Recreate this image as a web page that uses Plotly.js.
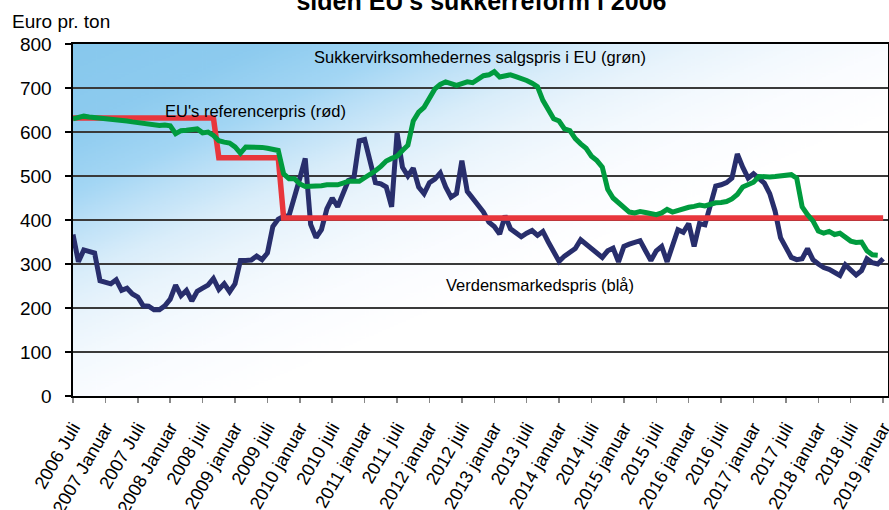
<!DOCTYPE html>
<html><head><meta charset="utf-8">
<script src="https://cdn.plot.ly/plotly-3.0.1.min.js"></script>
<style>html,body{margin:0;padding:0;background:#fff}#chart{width:889px;height:510px}</style>
</head><body><div id="chart"></div>
<script>
// Tick labels, one every 6 months starting 2006 July (month index 0)
const tickLabels = ["2006 Juli","2007 Januar","2007 Juli","2008 Januar","2008 juli","2009 januar","2009 juli","2010 januar","2010 juli","2011 januar","2011 juli","2012 januar","2012 juli","2013 januar","2013 juli","2014 januar","2014 juli","2015 januar","2015 juli","2016 januar","2016 juli","2017 januar","2017 juli","2018 januar","2018 juli","2019 januar"];

// Verdensmarkedspris (blå), monthly from 2006 July, EUR/ton
const worldPrice = [367,305,332,327,325,262,257,255,264,240,245,232,225,205,204,196,196,205,220,252,
228,240,216,238,245,252,267,242,255,237,255,308,308,309,318,310,325,385,402,408,
410,450,495,540,390,360,378,425,450,430,460,490,495,580,583,530,485,482,475,430,
598,520,500,518,475,460,485,493,507,475,452,460,535,465,450,432,418,395,385,368,
410,380,372,362,370,376,365,374,350,325,306,318,325,335,355,345,336,325,315,330,
336,305,340,345,348,353,330,308,330,340,305,340,378,372,392,340,392,389,430,477,
480,485,495,550,520,495,505,495,484,460,420,360,340,315,310,312,335,310,300,292,
288,282,274,298,288,275,285,312,303,300,312];

// Sukkervirksomhedernes salgspris i EU (grøn), monthly from 2006 July
const euSalesPrice = [630,634,636,634,633,632,631,630,628,627,625,623,621,620,618,617,615,616,614,596,
603,604,605,607,598,600,592,580,577,575,566,552,566,566,565,565,563,561,558,505,
494,494,482,476,476,478,478,480,480,480,484,488,488,488,496,503,512,522,534,540,
545,558,570,625,645,656,680,698,708,714,710,706,710,714,712,720,728,730,737,725,
728,730,726,722,717,711,703,672,648,630,625,607,603,585,573,563,545,535,520,470,
450,440,430,418,416,419,417,414,412,416,424,418,422,427,429,431,434,432,437,439,
440,442,448,458,475,480,486,499,498,498,499,500,501,503,495,430,412,398,375,370,
374,367,370,360,352,349,350,330,321,320];

// EU's referencepris (rød): step levels with change months
const refMonths = [0, 26, 27, 38, 39, 150];
const refPrice  = [631.9, 631.9, 541.5, 541.5, 404.4, 404.4];

const idx = arr => arr.map((_, i) => i);
const FONT = 'Arial, "Liberation Sans", sans-serif';

// gradient background
const cv = document.createElement('canvas');
cv.width = 400; cv.height = 400;
const cx = cv.getContext('2d');
const g = cx.createLinearGradient(0, 0, 400, 400);
g.addColorStop(0.00, '#87C8ED');
g.addColorStop(0.12, '#8DCBEF');
g.addColorStop(0.21, '#A3D6F4');
g.addColorStop(0.26, '#BBE0F7');
g.addColorStop(0.33, '#D9EDFA');
g.addColorStop(0.39, '#E9F4FC');
g.addColorStop(0.45, '#F3F9FE');
g.addColorStop(0.51, '#FAFCFF');
g.addColorStop(0.60, '#FFFFFF');
g.addColorStop(1.00, '#FFFFFF');
cx.fillStyle = g; cx.fillRect(0, 0, 400, 400);
const bgURL = cv.toDataURL('image/png');

const traces = [
  {x: idx(worldPrice), y: worldPrice, type: 'scatter', mode: 'lines',
   line: {color: '#282E6C', width: 5}, hoverinfo: 'skip'},
  {x: refMonths, y: refPrice, type: 'scatter', mode: 'lines',
   line: {color: '#E8363C', width: 5.5}, hoverinfo: 'skip'},
  {x: idx(euSalesPrice), y: euSalesPrice, type: 'scatter', mode: 'lines',
   line: {color: '#009B3E', width: 5}, hoverinfo: 'skip'}
];

const layout = {
  width: 889, height: 510,
  margin: {l: 73, r: 1, t: 44, b: 114},
  paper_bgcolor: '#FFFFFF',
  plot_bgcolor: 'rgba(0,0,0,0)',
  showlegend: false,
  font: {family: FONT, color: '#000'},
  title: {text: "<b>siden EU's sukkerreform i 2006</b>", font: {family: FONT, size: 25, color: '#000'},
          x: 0.5416, xanchor: 'center', xref: 'container', y: 0.997, yanchor: 'middle', yref: 'container'},
  xaxis: {
    range: [0, 150.9], tickmode: 'array',
    tickvals: tickLabels.map((_, i) => i * 6), ticktext: tickLabels,
    tickangle: -60, tickfont: {family: FONT, size: 18.2, color: '#000'},
    ticklabeloverflow: 'allow', ticklabelstandoff: 7,
    ticks: 'outside', ticklen: 5, tickcolor: '#888', tickwidth: 1.5,
    showgrid: false, zeroline: false,
    showline: true, linecolor: '#000', linewidth: 2, mirror: true
  },
  yaxis: {
    range: [0, 800], dtick: 100, tick0: 0,
    tickfont: {family: FONT, size: 19, color: '#000'},
    ticklabelstandoff: 9,
    ticks: 'outside', ticklen: 6, tickcolor: '#000', tickwidth: 1.5,
    showgrid: true, gridcolor: '#3A3A3A', gridwidth: 1.2, zeroline: false,
    showline: true, linecolor: '#000', linewidth: 2.5, mirror: true
  },
  images: [{source: bgURL, xref: 'paper', yref: 'paper', x: 0, y: 1, sizex: 1, sizey: 1,
            sizing: 'stretch', xanchor: 'left', yanchor: 'top', layer: 'below'}],
  annotations: [
    {text: 'Euro pr. ton', xref: 'paper', yref: 'paper', x: -0.0773, y: 1.0653,
     xanchor: 'left', yanchor: 'middle', showarrow: false, font: {family: FONT, size: 19, color: '#000'}},
    {text: 'Sukkervirksomhedernes salgspris i EU (grøn)', xref: 'x', yref: 'y', x: 44.2, y: 770,
     xanchor: 'left', yanchor: 'middle', showarrow: false, font: {family: FONT, size: 16.5, color: '#000'}},
    {text: "EU's referencerpris (rød)", xref: 'x', yref: 'y', x: 16.6, y: 648,
     xanchor: 'left', yanchor: 'middle', showarrow: false, font: {family: FONT, size: 16.5, color: '#000'}},
    {text: 'Verdensmarkedspris (blå)', xref: 'x', yref: 'y', x: 68.6, y: 253,
     xanchor: 'left', yanchor: 'middle', showarrow: false, font: {family: FONT, size: 16.5, color: '#000'}}
  ]
};

Plotly.newPlot('chart', traces, layout, {displayModeBar: false, staticPlot: true});
</script>
</body></html>
